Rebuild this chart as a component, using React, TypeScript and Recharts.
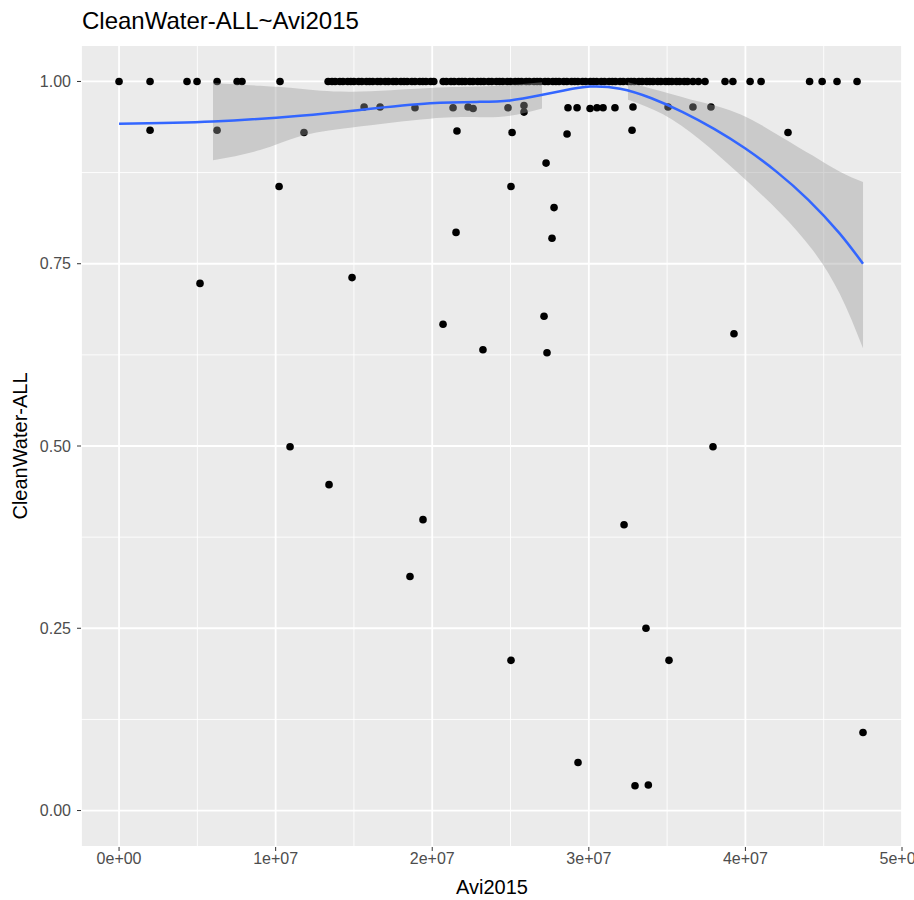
import { ComposedChart, Scatter, Line, Area, XAxis, YAxis, CartesianGrid } from 'recharts'

// x values are in units of 1e7
const X_UNIT = 1e7

// countries at CleanWater = 1.00
const onesX = [
  0, 0.198, 0.434, 0.498, 0.626, 0.754, 0.785, 1.028,
  1.335, 1.36, 1.38, 1.41, 1.43, 1.46, 1.48, 1.5, 1.53, 1.55, 1.58, 1.6, 1.62, 1.65,
  1.67, 1.7, 1.72, 1.75, 1.77, 1.8, 1.82, 1.84, 1.87, 1.89, 1.92, 1.94, 1.96, 1.99,
  2.01, 2.07, 2.09, 2.12, 2.14, 2.17, 2.19, 2.21, 2.24, 2.26, 2.29, 2.31, 2.33, 2.36,
  2.38, 2.41, 2.43, 2.45, 2.48, 2.5, 2.53, 2.55, 2.57, 2.6, 2.62, 2.65, 2.67, 2.69,
  2.72, 2.74, 2.77, 2.79, 2.81, 2.84, 2.86, 2.89, 2.91, 2.93, 2.96, 2.98, 3.01, 3.03,
  3.05, 3.08, 3.1, 3.13, 3.15, 3.17, 3.2, 3.22, 3.25, 3.27, 3.29, 3.32, 3.34, 3.37,
  3.39, 3.41, 3.44, 3.46, 3.49, 3.51, 3.53, 3.56, 3.58, 3.61, 3.63, 3.665, 3.7, 3.742,
  3.87, 3.92, 4.03, 4.1, 4.41, 4.49, 4.585, 4.713,
]

// row just under 1.00
const rowAX = [1.565, 1.667, 1.89, 2.133, 2.229, 2.261, 2.484, 2.586, 2.586, 2.867, 2.925, 3.008, 3.052, 3.091, 3.167, 3.282, 3.506, 3.665, 3.78]
const rowAY = [0.965, 0.965, 0.964, 0.964, 0.965, 0.963, 0.964, 0.967, 0.958, 0.964, 0.964, 0.963, 0.964, 0.964, 0.964, 0.965, 0.965, 0.965, 0.965]

// row around 0.93
const rowBX = [0.198, 0.626, 1.181, 2.158, 2.51, 2.861, 3.276, 4.272]
const rowBY = [0.933, 0.933, 0.93, 0.932, 0.93, 0.928, 0.933, 0.93]

// the rest
const looseX = [1.022, 0.517, 1.488, 1.092, 1.341, 1.941, 1.858, 2.069, 2.152, 2.324, 2.503, 2.503, 2.727, 2.778, 2.765, 2.714, 2.733, 2.931, 3.225, 3.295, 3.38, 3.365, 3.512, 3.793, 3.927, 4.751]
const looseY = [0.856, 0.723, 0.731, 0.499, 0.447, 0.399, 0.321, 0.667, 0.793, 0.632, 0.856, 0.206, 0.888, 0.827, 0.785, 0.678, 0.628, 0.066, 0.392, 0.034, 0.035, 0.25, 0.206, 0.499, 0.654, 0.107]

// loess fit
const fitX = [0, 0.6, 1.156, 1.539, 1.986, 2.305, 2.497, 2.688, 2.848, 3.008, 3.2, 3.4, 3.6, 3.8, 4.0, 4.2, 4.4, 4.6, 4.751]
const fitY = [0.942, 0.945, 0.953, 0.961, 0.97, 0.972, 0.974, 0.981, 0.988, 0.993, 0.99, 0.977, 0.958, 0.935, 0.908, 0.876, 0.838, 0.792, 0.75]

// confidence band (null = cut off by the 0..1 limits)
const bandX = [0.6, 0.9, 1.156, 1.488, 1.986, 2.305, 2.497, 2.701, 2.95, 3.25, 3.474, 3.71, 3.966, 4.221, 4.432, 4.604, 4.751]
const bandLo = [0.892, 0.906, 0.925, 0.937, 0.949, 0.951, 0.953, 0.963, null, 0.975, 0.955, 0.92, 0.872, 0.82, 0.768, 0.708, 0.634]
const bandHi = [0.998, 0.994, 0.99, 0.986, 0.991, 0.993, 0.995, 0.999, null, 0.999, 0.986, 0.972, 0.955, 0.925, 0.898, 0.876, 0.862]

const xTicks = [0, 1e7, 2e7, 3e7, 4e7, 5e7]
const xMinor = [0.5e7, 1.5e7, 2.5e7, 3.5e7, 4.5e7]
const yTicks = [0, 0.25, 0.5, 0.75, 1]
const yMinor = [0.125, 0.375, 0.625, 0.875]
const xDomain: [number, number] = [-0.243e7, 5e7]
const yDomain: [number, number] = [-0.05, 1.05]

const points = [
  ...onesX.map((x) => ({ x: x * X_UNIT, y: 1 })),
  ...rowAX.map((x, i) => ({ x: x * X_UNIT, y: rowAY[i] })),
  ...rowBX.map((x, i) => ({ x: x * X_UNIT, y: rowBY[i] })),
  ...looseX.map((x, i) => ({ x: x * X_UNIT, y: looseY[i] })),
]
const fit = fitX.map((x, i) => ({ x: x * X_UNIT, y: fitY[i] }))
const band = bandX.map((x, i) => ({
  x: x * X_UNIT,
  band: bandLo[i] == null ? null : [bandLo[i], bandHi[i]],
}))

const FONT = '"Liberation Sans", Arial, sans-serif'

const fmtX = (v: number) => (v === 0 ? '0e+00' : `${v / 1e7}e+07`)

const Dot = (props: any) => <circle cx={props.cx} cy={props.cy} r={3.8} fill="#000" />

export default function App() {
  return (
    <div style={{ position: 'absolute', left: 0, top: 0, width: 914, height: 900, background: '#fff', fontFamily: FONT }}>
      <div style={{ position: 'absolute', left: 82, top: 9, fontSize: 24, lineHeight: 1, color: '#000' }}>
        CleanWater-ALL~Avi2015
      </div>
      <div style={{ position: 'absolute', left: 392, width: 200, top: 877, fontSize: 20, lineHeight: 1, textAlign: 'center', color: '#000' }}>
        Avi2015
      </div>
      <div
        style={{
          position: 'absolute', left: -80, top: 436, width: 200, height: 20, fontSize: 20, lineHeight: 1,
          textAlign: 'center', color: '#000', transform: 'rotate(-90deg)',
        }}
      >
        CleanWater-ALL
      </div>
      <ComposedChart width={914} height={900} margin={{ top: 45, right: 12, bottom: 0, left: 0 }}>
        <CartesianGrid fill="#EBEBEB" stroke="#fff" strokeWidth={1.8} />
        <CartesianGrid
          stroke="#fff"
          strokeWidth={0.9}
          verticalCoordinatesGenerator={({ offset }: any) =>
            xMinor.map((v) => offset.left + ((v - xDomain[0]) / (xDomain[1] - xDomain[0])) * offset.width)
          }
          horizontalCoordinatesGenerator={({ offset }: any) =>
            yMinor.map((v) => offset.top + ((yDomain[1] - v) / (yDomain[1] - yDomain[0])) * offset.height)
          }
        />
        <XAxis
          dataKey="x"
          type="number"
          domain={xDomain}
          allowDataOverflow
          ticks={xTicks}
          interval={0}
          tickFormatter={fmtX}
          height={53}
          axisLine={false}
          tickLine={{ stroke: '#333' }}
          tickSize={4}
          tickMargin={2}
          tick={{ fill: '#4D4D4D', fontSize: 16, fontFamily: FONT }}
        />
        <YAxis
          type="number"
          domain={yDomain}
          allowDataOverflow
          ticks={yTicks}
          interval={0}
          tickFormatter={(v: number) => v.toFixed(2)}
          width={81}
          axisLine={false}
          tickLine={{ stroke: '#333' }}
          tickSize={4}
          tickMargin={6}
          tick={{ fill: '#4D4D4D', fontSize: 16, fontFamily: FONT }}
        />
        <Scatter data={points} dataKey="y" shape={Dot} isAnimationActive={false} />
        <Area
          data={band}
          dataKey="band"
          type="natural"
          stroke="none"
          fill="#999999"
          fillOpacity={0.4}
          connectNulls={false}
          isAnimationActive={false}
          activeDot={false}
          zIndex={700}
        />
        <Line
          data={fit}
          dataKey="y"
          type="natural"
          stroke="#3366FF"
          strokeWidth={2.5}
          dot={false}
          activeDot={false}
          isAnimationActive={false}
          zIndex={800}
        />
      </ComposedChart>
    </div>
  )
}
